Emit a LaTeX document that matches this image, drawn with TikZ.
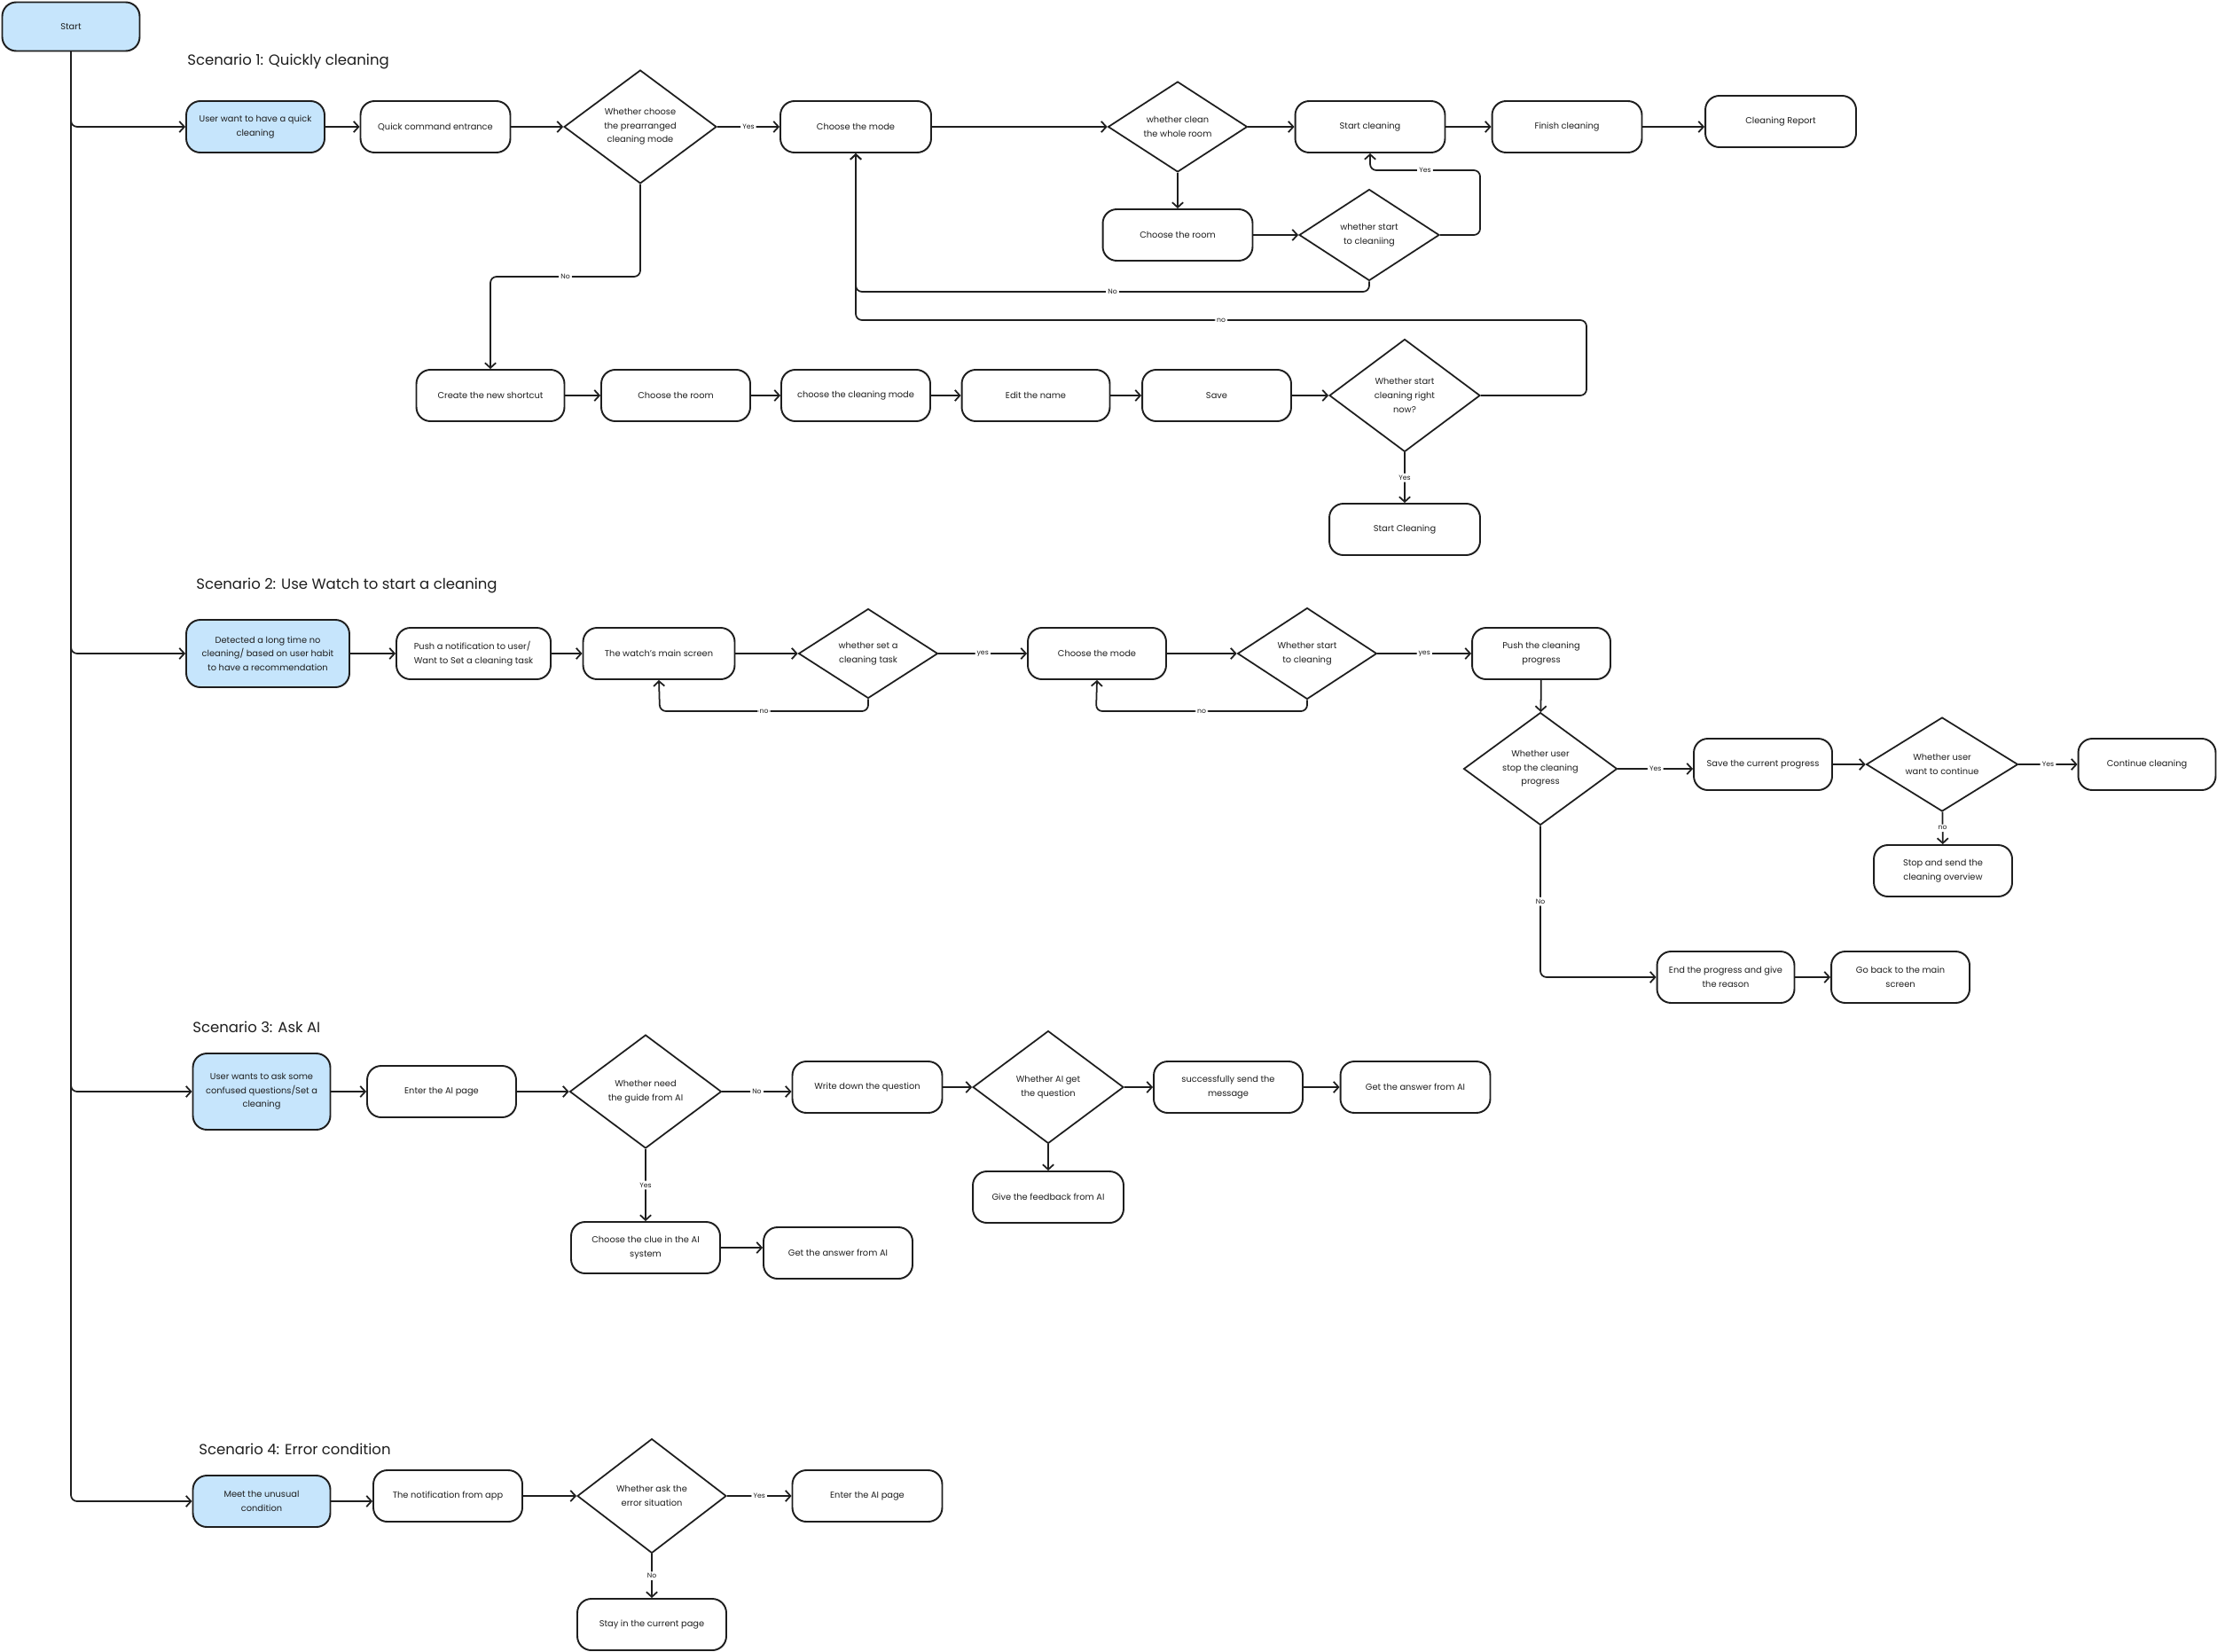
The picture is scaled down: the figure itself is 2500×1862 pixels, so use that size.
\documentclass[tikz,border=0pt]{standalone}
\usepackage{fontspec}
\setmainfont{Poppins}
\usetikzlibrary{shapes.geometric,arrows.meta}
\definecolor{bluefill}{HTML}{C6E5FC}
\definecolor{ink}{HTML}{1E1E1E}
\newcommand\nfont{\fontsize{5.6}{8.9}\selectfont}
\newcommand\tfont{\fontsize{9.4}{11}\selectfont}
\newcommand\lfont{\fontsize{4.4}{5}\selectfont}
\tikzset{
  box/.style={draw=ink, line width=1.1pt, rounded corners=9pt, minimum height=1.16cm, minimum width=#1, inner sep=1pt, align=center, font=\nfont, text=ink},
  box/.default=3.38cm,
  bluebox/.style={box=#1, fill=bluefill},
  bluebox/.default=3.12cm,
  dia/.style n args={2}{draw=ink, line width=1pt, diamond, minimum width=#1, minimum height=#2, inner sep=0pt, align=center, font=\nfont, text=ink},
  conn/.style={draw=ink, line width=1pt, rounded corners=4pt, -{Straight Barb[length=3.2pt,width=7pt,line width=1pt]}},
  lbl/.style={fill=white, inner sep=1.2pt, font=\lfont, text=ink},
  title/.style={anchor=west, font=\tfont, text=ink, inner sep=0pt}
}
\begin{document}
\begin{tikzpicture}[x=0.02cm, y=-0.02cm]
\useasboundingbox[fill=white] (0,0) rectangle (2500,1862);

% Start
\node[bluebox=3.1cm, minimum height=1.1cm] (start) at (80,30) {Start};

% ---------- Scenario 1
\node[title] (t1) at (211,69) {Scenario 1: Quickly cleaning};
\node[bluebox] (n1) at (288,143) {User want to have a quick\\cleaning};
\node[box] (n2) at (491,143) {Quick command entrance};
\node[dia={3.44cm}{2.56cm}] (d1) at (722,143) {Whether choose\\the prearranged\\cleaning mode};
\node[box=3.4cm] (n3) at (965,143) {Choose the mode};
\node[dia={3.14cm}{2.04cm}] (d2) at (1328,143) {whether clean\\the whole room};
\node[box] (n4) at (1545,143) {Start cleaning};
\node[box] (n5) at (1767,143) {Finish cleaning};
\node[box=3.4cm] (n6) at (2008,137) {Cleaning Report};
\node[box] (n7) at (1328,265) {Choose the room};
\node[dia={3.16cm}{2.06cm}] (d3) at (1544,265) {whether start\\to cleaniing};
\node[box=3.34cm] (n8) at (553,446) {Create the new shortcut};
\node[box=3.36cm] (n9) at (762,446) {Choose the room};
\node[box=3.36cm] (n10) at (965,446) {choose the cleaning mode};
\node[box=3.34cm] (n11) at (1168,446) {Edit the name};
\node[box=3.36cm] (n12) at (1372,446) {Save};
\node[dia={3.4cm}{2.54cm}] (d4) at (1584,446) {Whether start\\cleaning right\\now?};
\node[box=3.4cm] (n13) at (1584,597) {Start Cleaning};

\coordinate (c1) at (1669,192);
\coordinate (c2) at (965,329);
\coordinate (c3) at (1789,361);
\coordinate (c4) at (553,312);

% ---------- Scenario 2
\node[title] (t2) at (221,660) {Scenario 2: Use Watch to start a cleaning};
\node[bluebox=3.68cm, minimum height=1.52cm] (m1) at (302,737) {Detected a long time no\\cleaning/ based on user habit\\to have a recommendation};
\node[box=3.48cm, align=left] (m2) at (534,737) {Push a notification to user/\\Want to Set a cleaning task};
\node[box=3.42cm] (m3) at (743,737) {The watch's main screen};
\node[dia={3.14cm}{2.02cm}] (md1) at (979,737) {whether set a\\cleaning task};
\node[box=3.12cm] (m4) at (1237,737) {Choose the mode};
\node[dia={3.14cm}{2.06cm}] (md2) at (1474,737) {Whether start\\to cleaning};
\node[box=3.12cm] (m5) at (1738,737) {Push the cleaning\\progress};
\node[dia={3.46cm}{2.04cm}] (md3) at (1737,867) {Whether user\\stop the cleaning\\progress};
\node[box=3.12cm] (m6) at (1988,862) {Save the current progress};
\node[dia={3.42cm}{2.06cm}] (md4) at (2190,862) {Whether user\\want to continue};
\node[box=3.1cm] (m7) at (2421,862) {Continue cleaning};
\node[box=3.12cm] (m8) at (2191,982) {Stop and send the\\cleaning overview};
\node[box=3.1cm] (m9) at (1946,1102) {End the progress and give\\the reason};
\node[box=3.12cm] (m10) at (2143,1102) {Go back to the main\\screen};

\coordinate (c5) at (744,802);
\coordinate (c6) at (1236,802);

% ---------- Scenario 3
\node[title] (t3) at (217,1158) {Scenario 3: Ask AI};
\node[bluebox=3.1cm, minimum height=1.72cm] (a1) at (295,1231) {User wants to ask some\\confused questions/Set a\\cleaning};
\node[box=3.36cm] (a2) at (498,1231) {Enter the AI page};
\node[dia={3.42cm}{2.56cm}] (ad1) at (728,1231) {Whether need\\the guide from AI};
\node[box] (a3) at (978,1226) {Write down the question};
\node[box=3.36cm] (a4) at (728,1407) {Choose the clue in the AI\\system};
\node[box=3.36cm] (a5) at (945,1413) {Get the answer from AI};
\node[dia={3.4cm}{2.54cm}] (ad2) at (1182,1226) {Whether AI get\\the question};
\node[box=3.36cm] (a6) at (1385,1226) {successfully send the\\message};
\node[box] (a7) at (1596,1226) {Get the answer from AI};
\node[box=3.4cm] (a8) at (1182,1350) {Give the feedback from AI};

% ---------- Scenario 4
\node[title] (t4) at (224,1634) {Scenario 4: Error condition};
\node[bluebox=3.1cm] (e1) at (295,1693) {Meet the unusual\\condition};
\node[box=3.36cm] (e2) at (505,1687) {The notification from app};
\node[dia={3.36cm}{2.58cm}] (ed1) at (735,1687) {Whether ask the\\error situation};
\node[box] (e3) at (978,1687) {Enter the AI page};
\node[box=3.36cm] (e4) at (735,1832) {Stay in the current page};

% ---------- trunk
\draw[conn] (start.south) |- (n1.west);
\draw[conn] (start.south) |- (m1.west);
\draw[conn] (start.south) |- (a1.west);
\draw[conn] (start.south) |- (e1.west);

% ---------- Scenario 1 connectors
\draw[conn] (n1) -- (n2);
\draw[conn] (n2) -- (d1);
\draw[conn] (d1) -- node[lbl]{Yes} (n3);
\draw[conn] (n3) -- (d2);
\draw[conn] (d2) -- (n4);
\draw[conn] (n4) -- (n5);
\draw[conn] (n5.east) -- (n5.east -| n6.west);
\draw[conn] (d2) -- (n7);
\draw[conn] (n7) -- (d3);
\draw[conn] (d3.east) -| (c1) -| node[lbl, pos=0.25]{Yes} (n4.south);
\draw[conn] (d3.south) |- node[lbl, pos=0.75]{No} (c2) -- (n3.south);
\draw[conn] (d4.east) -| (c3) -| node[lbl, pos=0.25]{no} (n3.south);
\draw[conn] (d1.south) |- node[lbl, pos=0.75]{No} (c4) -- (n8.north);
\draw[conn] (n8) -- (n9);
\draw[conn] (n9) -- (n10);
\draw[conn] (n10) -- (n11);
\draw[conn] (n11) -- (n12);
\draw[conn] (n12) -- (d4);
\draw[conn] (d4) -- node[lbl]{Yes} (n13);

% ---------- Scenario 2 connectors
\draw[conn] (m1) -- (m2);
\draw[conn] (m2) -- (m3);
\draw[conn] (m3) -- (md1);
\draw[conn] (md1) -- node[lbl]{yes} (m4);
\draw[conn] (md1.south) |- node[lbl, pos=0.75]{no} (c5) -- (m3.south);
\draw[conn] (m4) -- (md2);
\draw[conn] (md2) -- node[lbl]{yes} (m5);
\draw[conn] (md2.south) |- node[lbl, pos=0.75]{no} (c6) -- (m4.south);
\draw[conn] (m5) -- (md3);
\draw[conn] (md3.east) -- node[lbl]{Yes} (md3.east -| m6.west);
\draw[conn] (m6) -- (md4);
\draw[conn] (md4) -- node[lbl]{Yes} (m7);
\draw[conn] (md4) -- node[lbl]{no} (m8);
\draw[conn] (md3.south) |- node[lbl, pos=0.25]{No} (m9.west);
\draw[conn] (m9) -- (m10);

% ---------- Scenario 3 connectors
\draw[conn] (a1) -- (a2);
\draw[conn] (a2) -- (ad1);
\draw[conn] (ad1.east) -- node[lbl]{No} (ad1.east -| a3.west);
\draw[conn] (ad1) -- node[lbl]{Yes} (a4);
\draw[conn] (a4.east) -- (a4.east -| a5.west);
\draw[conn] (a3) -- (ad2);
\draw[conn] (ad2) -- (a6);
\draw[conn] (a6) -- (a7);
\draw[conn] (ad2) -- (a8);

% ---------- Scenario 4 connectors
\draw[conn] (e1.east) -- (e1.east -| e2.west);
\draw[conn] (e2) -- (ed1);
\draw[conn] (ed1) -- node[lbl]{Yes} (e3);
\draw[conn] (ed1) -- node[lbl]{No} (e4);
\end{tikzpicture}
\end{document}
